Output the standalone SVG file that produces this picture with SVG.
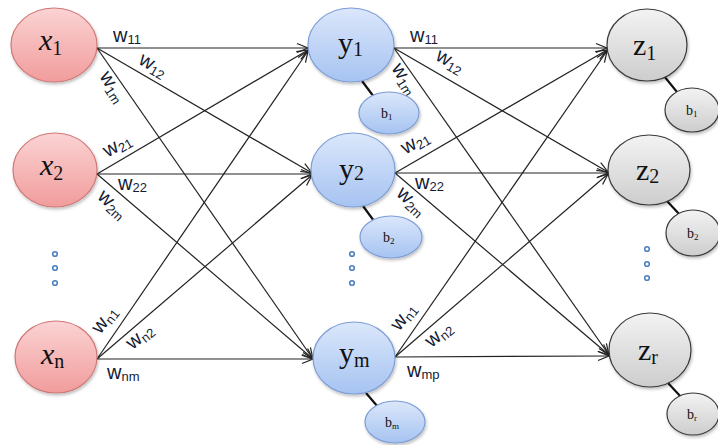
<svg xmlns="http://www.w3.org/2000/svg" width="718" height="445" viewBox="0 0 718 445">
<defs>
<linearGradient id="gx" x1="0" y1="0" x2="0" y2="1"><stop offset="0" stop-color="#fbd3d3"/><stop offset="1" stop-color="#f19c9c"/></linearGradient>
<linearGradient id="gy" x1="0" y1="0" x2="0" y2="1"><stop offset="0" stop-color="#dbe7fb"/><stop offset="1" stop-color="#a6c3f1"/></linearGradient>
<linearGradient id="gz" x1="0" y1="0" x2="0" y2="1"><stop offset="0" stop-color="#f3f3f3"/><stop offset="1" stop-color="#cdcdcd"/></linearGradient>
<filter id="sh" x="-20%" y="-20%" width="140%" height="150%"><feDropShadow dx="1" dy="2" stdDeviation="1.5" flood-color="#000" flood-opacity="0.25"/></filter>
<marker id="ar" viewBox="-12 -6 14 12" refX="0" refY="0" markerWidth="14" markerHeight="12" markerUnits="userSpaceOnUse" orient="auto">
<path d="M-11,-4.5 L0,0 L-11,4.5" fill="none" stroke="#222" stroke-width="1.2"/>
</marker>
<style>
.c line{stroke:#222;stroke-width:1.2;marker-end:url(#ar)}
.bl{stroke:#111;stroke-width:2.2}
.nx{fill:url(#gx);stroke:#d07878;stroke-width:1.2;filter:url(#sh)}
.ny{fill:url(#gy);stroke:#7d9dd6;stroke-width:1.2;filter:url(#sh)}
.nz{fill:url(#gz);stroke:#3a3a3a;stroke-width:1.2;filter:url(#sh)}
.nl{font-family:"Liberation Serif","Times New Roman",serif;font-size:30px;fill:#111}
.sb{font-size:20px}
.bt{font-family:"Liberation Serif","Times New Roman",serif;font-size:14px;fill:#111}
.bs{font-size:9px}
.w{font-family:"Liberation Sans",Arial,sans-serif;font-size:20px;fill:#151b35}
.ws{font-size:13px}
.dot{fill:#fff;stroke:#4f81bd;stroke-width:1.6}
</style>
</defs>
<rect width="718" height="445" fill="#fff"/>

<g id="connectors" class="c">
<line x1="97" y1="48" x2="308" y2="48"/>
<line x1="97" y1="48" x2="312" y2="173"/>
<line x1="97" y1="48" x2="313" y2="359"/>
<line x1="97" y1="174" x2="308" y2="50"/>
<line x1="97" y1="174" x2="312" y2="174"/>
<line x1="97" y1="174" x2="313" y2="359"/>
<line x1="97" y1="359" x2="308" y2="51"/>
<line x1="97" y1="359" x2="312" y2="175"/>
<line x1="97" y1="359" x2="313" y2="359"/>
<line x1="394" y1="48" x2="607" y2="48"/>
<line x1="394" y1="48" x2="608" y2="172"/>
<line x1="394" y1="48" x2="609" y2="355"/>
<line x1="395" y1="173" x2="607" y2="50"/>
<line x1="395" y1="173" x2="608" y2="173"/>
<line x1="395" y1="173" x2="609" y2="355"/>
<line x1="395" y1="357" x2="607" y2="51"/>
<line x1="395" y1="357" x2="608" y2="174"/>
<line x1="395" y1="357" x2="609" y2="356"/>
</g>

<g id="bias-links">
<line class="bl" x1="362" y1="81" x2="374" y2="97"/>
<line class="bl" x1="363" y1="206" x2="374" y2="221"/>
<line class="bl" x1="366" y1="393" x2="378" y2="407"/>
<line class="bl" x1="664" y1="76" x2="677" y2="92"/>
<line class="bl" x1="667" y1="201" x2="680" y2="215"/>
<line class="bl" x1="668" y1="383" x2="682" y2="398"/>
</g>

<g id="weights">
<text class="w" x="113" y="42">w<tspan class="ws" dy="2">11</tspan></text>
<text class="w" text-anchor="middle" transform="translate(152,67) rotate(30)" y="4">w<tspan class="ws" dy="3">12</tspan></text>
<text class="w" text-anchor="middle" transform="translate(111,88) rotate(58)" y="4">w<tspan class="ws" dy="3">1m</tspan></text>
<text class="w" text-anchor="middle" transform="translate(118,147) rotate(-30)" y="4">w<tspan class="ws" dy="3">21</tspan></text>
<text class="w" x="118" y="190">w<tspan class="ws" dy="2">22</tspan></text>
<text class="w" text-anchor="middle" transform="translate(111,206) rotate(43)" y="4">w<tspan class="ws" dy="3">2m</tspan></text>
<text class="w" text-anchor="middle" transform="translate(106,321) rotate(-52)" y="4">w<tspan class="ws" dy="3">n1</tspan></text>
<text class="w" text-anchor="middle" transform="translate(141,338) rotate(-40)" y="4">w<tspan class="ws" dy="3">n2</tspan></text>
<text class="w" x="107" y="379">w<tspan class="ws" dy="2">nm</tspan></text>
<text class="w" x="410" y="42">w<tspan class="ws" dy="2">11</tspan></text>
<text class="w" text-anchor="middle" transform="translate(449,63) rotate(30)" y="4">w<tspan class="ws" dy="3">12</tspan></text>
<text class="w" text-anchor="middle" transform="translate(403,80) rotate(58)" y="4">w<tspan class="ws" dy="3">1m</tspan></text>
<text class="w" text-anchor="middle" transform="translate(416,144) rotate(-30)" y="4">w<tspan class="ws" dy="3">21</tspan></text>
<text class="w" x="415" y="189">w<tspan class="ws" dy="2">22</tspan></text>
<text class="w" text-anchor="middle" transform="translate(410,203) rotate(43)" y="4">w<tspan class="ws" dy="3">2m</tspan></text>
<text class="w" text-anchor="middle" transform="translate(405,318) rotate(-52)" y="4">w<tspan class="ws" dy="3">n1</tspan></text>
<text class="w" text-anchor="middle" transform="translate(440,336) rotate(-40)" y="4">w<tspan class="ws" dy="3">n2</tspan></text>
<text class="w" x="407" y="377">w<tspan class="ws" dy="2">mp</tspan></text>
</g>

<g id="x1"><ellipse class="nx" cx="54" cy="45" rx="43" ry="37"/><text class="nl" x="39" y="50"><tspan font-style="italic">x</tspan><tspan class="sb" dy="5">1</tspan></text></g>
<g id="x2"><ellipse class="nx" cx="55" cy="170" rx="42" ry="37"/><text class="nl" x="40" y="175"><tspan font-style="italic">x</tspan><tspan class="sb" dy="5">2</tspan></text></g>
<g id="xn"><ellipse class="nx" cx="56" cy="357" rx="41" ry="36"/><text class="nl" x="41" y="364"><tspan font-style="italic">x</tspan><tspan class="sb" dy="4">n</tspan></text></g>

<g id="y1"><ellipse class="ny" cx="351" cy="45" rx="43" ry="37"/><text class="nl" x="338" y="53" font-size="32">y<tspan class="sb" dy="3">1</tspan></text></g>
<g id="y2"><ellipse class="ny" cx="353" cy="170" rx="42" ry="37"/><text class="nl" x="339" y="179" font-size="32">y<tspan class="sb" dy="1">2</tspan></text></g>
<g id="ym"><ellipse class="ny" cx="354" cy="358" rx="41" ry="36"/><text class="nl" x="339" y="363" font-size="32">y<tspan class="sb" dy="4">m</tspan></text></g>

<g id="b1y"><ellipse class="ny" cx="389" cy="113" rx="30" ry="21"/><text class="bt" x="381" y="118">b<tspan class="bs" dy="2">1</tspan></text></g>
<g id="b2y"><ellipse class="ny" cx="391" cy="237" rx="31" ry="21"/><text class="bt" x="383" y="242">b<tspan class="bs" dy="2">2</tspan></text></g>
<g id="bmy"><ellipse class="ny" cx="395" cy="422" rx="30" ry="21"/><text class="bt" x="385" y="427">b<tspan class="bs" dy="2">m</tspan></text></g>

<g id="z1"><ellipse class="nz" cx="647" cy="45" rx="40" ry="36"/><text class="nl" x="633" y="55">z<tspan class="sb" dy="5">1</tspan></text></g>
<g id="z2"><ellipse class="nz" cx="649" cy="170" rx="41" ry="35"/><text class="nl" x="636" y="180">z<tspan class="sb" dy="3">2</tspan></text></g>
<g id="zr"><ellipse class="nz" cx="650" cy="350" rx="41" ry="37"/><text class="nl" x="638" y="360">z<tspan class="sb" dy="4">r</tspan></text></g>

<g id="b1z"><ellipse class="nz" cx="692" cy="110" rx="27" ry="22"/><text class="bt" x="686" y="115" font-size="12">b<tspan class="bs" dy="2">1</tspan></text></g>
<g id="b2z"><ellipse class="nz" cx="693" cy="233" rx="27" ry="23"/><text class="bt" x="687" y="238" font-size="12">b<tspan class="bs" dy="2">2</tspan></text></g>
<g id="brz"><ellipse class="nz" cx="693" cy="414" rx="26" ry="21"/><text class="bt" x="687" y="419" font-size="12">b<tspan class="bs" dy="2">r</tspan></text></g>

<g id="dots">
<circle class="dot" cx="55" cy="254" r="2.3"/><circle class="dot" cx="55" cy="268" r="2.3"/><circle class="dot" cx="55" cy="283" r="2.3"/>
<circle class="dot" cx="352" cy="254" r="2.3"/><circle class="dot" cx="352" cy="268" r="2.3"/><circle class="dot" cx="352" cy="283" r="2.3"/>
<circle class="dot" cx="647" cy="249" r="2.3"/><circle class="dot" cx="647" cy="264" r="2.3"/><circle class="dot" cx="647" cy="278" r="2.3"/>
</g>
</svg>
